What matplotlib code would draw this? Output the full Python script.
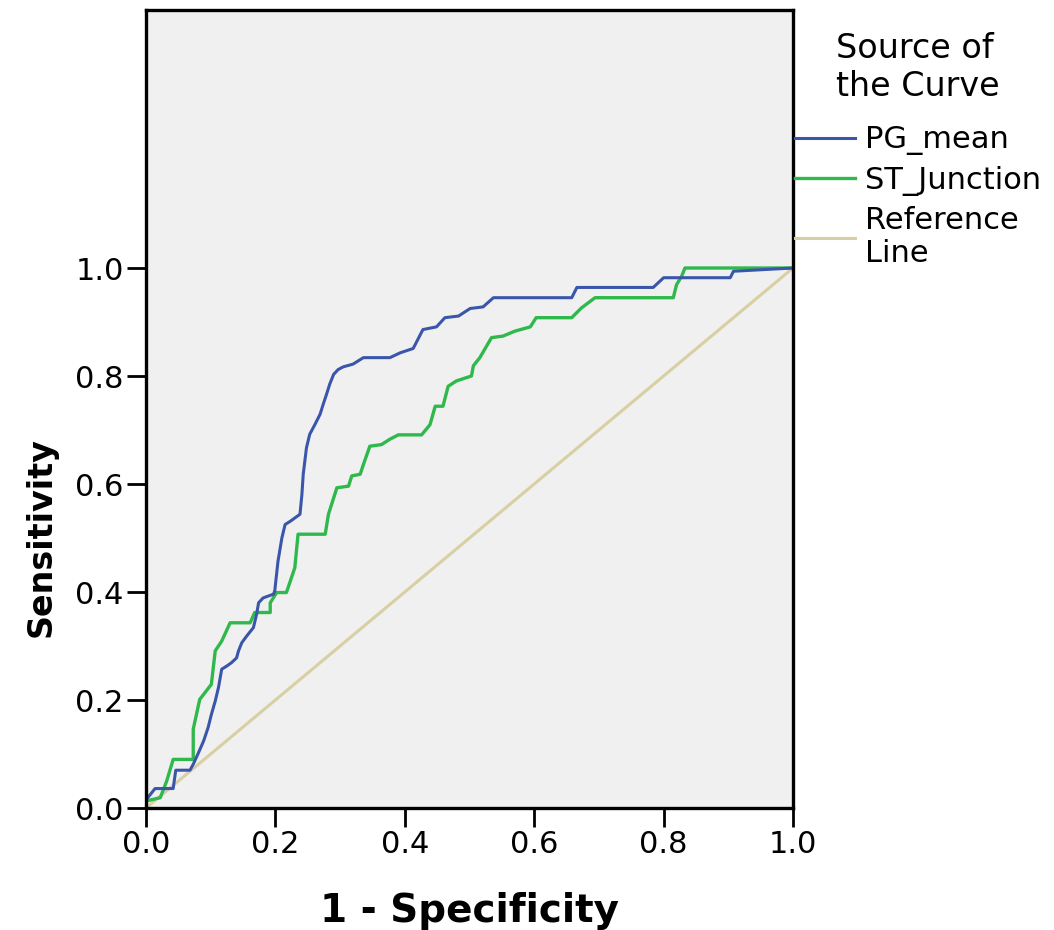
import matplotlib.pyplot as plt
from matplotlib.lines import Line2D

plt.rcParams['font.family'] = ['DejaVu Sans']

# ROC points (1 - specificity, sensitivity)
pg_fpr = [0, 0.0, 0.014, 0.042, 0.046, 0.068, 0.073, 0.081, 0.089, 0.096,
          0.101, 0.107, 0.112, 0.117, 0.125, 0.132, 0.140, 0.143, 0.148, 0.156,
          0.166, 0.171, 0.174, 0.181, 0.197, 0.199, 0.204, 0.210, 0.215, 0.223,
          0.238, 0.241, 0.243, 0.248, 0.253, 0.261, 0.269, 0.274, 0.279, 0.284,
          0.290, 0.297, 0.305, 0.320, 0.336, 0.377, 0.393, 0.413, 0.428, 0.449,
          0.462, 0.483, 0.501, 0.521, 0.537, 0.658, 0.666, 0.784, 0.800, 0.903,
          0.908, 1.0]
pg_tpr = [0, 0.015, 0.036, 0.036, 0.070, 0.070, 0.081, 0.102, 0.124, 0.149,
          0.173, 0.198, 0.223, 0.257, 0.263, 0.269, 0.278, 0.291, 0.306, 0.319,
          0.334, 0.359, 0.380, 0.389, 0.396, 0.402, 0.457, 0.500, 0.525, 0.531,
          0.544, 0.581, 0.618, 0.667, 0.692, 0.710, 0.729, 0.748, 0.766, 0.785,
          0.803, 0.812, 0.817, 0.822, 0.834, 0.834, 0.843, 0.851, 0.886, 0.891,
          0.908, 0.911, 0.925, 0.928, 0.945, 0.945, 0.964, 0.964, 0.982, 0.982,
          0.994, 1.0]

st_fpr = [0, 0.0, 0.022, 0.032, 0.042, 0.073, 0.073, 0.083, 0.101, 0.107,
          0.117, 0.130, 0.161, 0.168, 0.192, 0.192, 0.202, 0.217, 0.223, 0.230,
          0.235, 0.277, 0.282, 0.295, 0.313, 0.318, 0.331, 0.336, 0.346, 0.364,
          0.377, 0.390, 0.426, 0.439, 0.447, 0.459, 0.467, 0.480, 0.503, 0.506,
          0.516, 0.534, 0.552, 0.570, 0.594, 0.603, 0.658, 0.673, 0.694, 0.815,
          0.820, 0.828, 0.833, 1.0]
st_tpr = [0, 0.013, 0.019, 0.050, 0.090, 0.090, 0.146, 0.201, 0.229, 0.291,
          0.309, 0.343, 0.343, 0.362, 0.362, 0.380, 0.399, 0.399, 0.420, 0.445,
          0.507, 0.507, 0.544, 0.593, 0.596, 0.615, 0.618, 0.636, 0.670, 0.673,
          0.683, 0.691, 0.691, 0.710, 0.744, 0.744, 0.781, 0.791, 0.800, 0.819,
          0.834, 0.871, 0.874, 0.883, 0.891, 0.908, 0.908, 0.926, 0.945, 0.945,
          0.969, 0.985, 1.0, 1.0]

ref_line = [0, 1]
ticks = [0.0, 0.2, 0.4, 0.6, 0.8, 1.0]

c_pg = '#3a56ab'
c_st = '#2fb84c'
c_ref = '#d8cfa2'

fig = plt.figure(figsize=(10.54, 9.30), dpi=100)
ax = fig.add_axes([146/1054, 1 - 808/930, 647/1054, 798/930])
ax.set_facecolor('#f0f0f0')

ax.plot(ref_line, ref_line, color=c_ref, lw=2.2)
ax.plot(st_fpr, st_tpr, color=c_st, lw=2.4)
ax.plot(pg_fpr, pg_tpr, color=c_pg, lw=2.2)

ax.set_xlim(0, 1)
ax.set_ylim(0, 798/540)
ax.set_xticks(ticks)
ax.set_yticks(ticks)
ax.set_xticklabels(['%.1f' % t for t in ticks])
ax.set_yticklabels(['%.1f' % t for t in ticks])
ax.tick_params(direction='out', length=14, width=2, color='black',
               labelsize=22, pad=2)
for s in ax.spines.values():
    s.set_linewidth(2.4)
    s.set_color('black')

ax.set_xlabel('1 - Specificity', fontsize=28, fontweight='bold')
ax.xaxis.set_label_coords(0.5, -0.105)
ax.set_ylabel('Sensitivity', fontsize=24, fontweight='bold')
ax.yaxis.set_label_coords(-0.137, 271/798)

handles = [Line2D([], [], color=c_pg, lw=2.2),
           Line2D([], [], color=c_st, lw=2.4),
           Line2D([], [], color=c_ref, lw=2.2)]
labels = ['PG_mean', 'ST_Junction', 'Reference\nLine']
leg = ax.legend(handles, labels, title='Source of\nthe Curve',
                loc='upper left', bbox_to_anchor=(1.003, 1 - 22/798),
                frameon=False, borderpad=0, borderaxespad=0,
                fontsize=22, title_fontsize=24, handlelength=1.96,
                handletextpad=0.33, labelspacing=0.33)
leg._legend_box.sep = 16

fig.savefig('out.png', dpi=100)
